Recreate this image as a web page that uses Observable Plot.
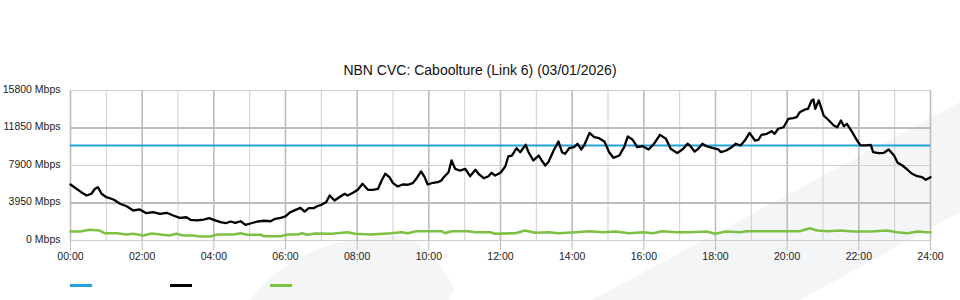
<!DOCTYPE html>
<html>
<head>
<meta charset="utf-8">
<script src="https://cdn.jsdelivr.net/npm/d3@7"></script>
<script src="https://cdn.jsdelivr.net/npm/@observablehq/plot@0.6"></script>
<style>
  html, body { margin: 0; padding: 0; background: #fff; }
  body { width: 960px; height: 300px; position: relative; overflow: hidden; font-family: "Liberation Sans", Arial, sans-serif; }
  #wm { position: absolute; left: 0; top: 0; z-index: 0; }
  #title { position: relative; z-index: 1; height: 80px; box-sizing: border-box; padding-top: 62px; text-align: center; font-size: 14px; line-height: 16px; color: #111; }
  #chart { position: relative; z-index: 1; height: 185px; }
  #legend { position: relative; z-index: 1; height: 35px; }
  .sw { position: absolute; top: 19px; width: 22px; height: 2.5px; }
</style>
</head>
<body>
<svg id="wm" width="960" height="300">
  <path d="M250,300 Q300,236 395,236 Q428,238 455,290 L448,300 Z" fill="#f4f5f7"/>
  <path d="M592,300 L960,102 L960,212 L800,300 Z" fill="#f4f5f7"/>
</svg>
<div id="title">NBN CVC: Caboolture (Link 6) (03/01/2026)</div>
<div id="chart"></div>
<div id="legend"></div>
<script>
// ---- data (minutes after midnight, Mbps) ----
const blackMin = [0,10,18,27,35,41,46,52,60,72,83,94,105,116,127,138,150,161,172,183,194,201,212,223,232,240,251,260,268,276,285,293,301,313,324,335,343,352,360,368,377,385,392,399,407,413,420,428,434,442,450,459,464,473,481,489,498,506,515,521,527,534,540,548,556,565,573,579,587,593,598,607,615,621,625,633,638,644,652,661,669,678,683,692,700,705,711,720,728,733,739,747,753,762,767,775,784,789,795,800,809,817,823,828,835,843,849,855,860,869,877,885,894,902,909,919,927,933,941,949,958,968,977,987,997,1005,1016,1026,1033,1037,1045,1051,1058,1065,1076,1085,1089,1098,1107,1114,1122,1129,1137,1146,1152,1157,1166,1174,1179,1185,1194,1202,1210,1216,1221,1230,1235,1241,1244,1247,1253,1261,1270,1278,1284,1290,1295,1300,1309,1317,1323,1331,1340,1344,1353,1362,1370,1379,1385,1393,1401,1409,1418,1426,1432,1440];
const blackVal = [5900,5450,5090,4740,4920,5450,5610,4920,4560,4320,3870,3610,3160,3270,2880,2980,2810,2920,2630,2390,2450,2180,2110,2210,2350,2180,1930,1820,2000,1860,2030,1650,1790,2000,2080,2030,2290,2390,2530,2980,3230,3440,3050,3400,3400,3610,3760,4030,4740,4210,4560,4920,4740,5020,5340,5970,5340,5340,5450,6320,7030,6670,6040,5690,5900,5870,6040,6500,7270,6670,5900,6080,6140,6320,6670,7190,8430,7550,7370,7550,6770,7450,7030,6560,6770,7130,6850,7130,7790,8850,8950,9720,9300,10080,9300,8430,8950,8430,7900,8250,9480,10430,9300,9130,9720,9830,10190,9590,10010,11340,10880,10780,10430,9300,8710,8950,9830,10950,10640,9830,9930,9590,10190,11130,10710,9660,9200,9660,10190,10010,9370,9660,10190,9930,9720,9590,9300,9480,9830,10190,10010,10530,11340,10530,10610,11130,11240,11510,11240,11770,11930,12820,12880,12990,13510,13800,13870,14750,14850,13870,14750,13170,12640,12110,11930,12640,12040,12290,11410,10530,10010,10010,10080,9300,9200,9240,9590,8950,8180,7900,7480,7030,6770,6670,6390,6670];
const greenMin = [0,16,32,49,57,77,94,105,122,136,150,166,177,189,205,218,234,246,273,285,296,318,324,352,363,380,388,396,410,437,464,476,503,537,554,565,579,604,621,627,638,666,678,703,711,745,761,778,800,817,846,869,891,913,935,958,975,991,1014,1036,1065,1079,1098,1121,1132,1171,1221,1238,1250,1267,1289,1312,1340,1367,1384,1401,1418,1432,1440];
const greenVal = [950,950,1130,1050,770,770,630,710,530,740,630,530,710,530,530,420,420,630,630,770,600,600,450,450,630,630,770,600,740,710,870,710,630,770,870,770,980,980,980,770,980,980,870,870,710,770,1050,810,870,770,870,980,870,950,770,870,770,980,870,870,950,710,950,870,980,980,980,1300,1050,980,1050,950,950,1050,870,770,950,870,870];
const capacity = 10000;
const yTicks = [0, 3950, 7900, 11850, 15800];
const xTickLabels = ["00:00","02:00","04:00","06:00","08:00","10:00","12:00","14:00","16:00","18:00","20:00","22:00","24:00"];

const BLUE = "#1ea2dc", BLACK = "#000000", GREEN = "#7cc143";

const black = blackMin.map((m, i) => ({m, v: blackVal[i]}));
const green = greenMin.map((m, i) => ({m, v: greenVal[i]}));
const hours = d3.range(0, 25);
const evenH = hours.filter(h => h % 2 === 0).map(h => h * 60);
const oddH = hours.filter(h => h % 2 === 1).map(h => h * 60);

const chart = Plot.plot({
  width: 960,
  height: 185,
  marginLeft: 70,
  marginRight: 30,
  marginTop: 10,
  marginBottom: 25,
  style: {background: "transparent", fontFamily: "'Liberation Sans', Arial, sans-serif", fontSize: "10.5px", color: "#222"},
  x: {domain: [0, 1440]},
  y: {domain: [0, 15800]},
  marks: [
    Plot.ruleX(oddH, {x: d => d, stroke: "#cfcfcf", strokeWidth: 1}),
    Plot.ruleX(evenH, {x: d => d, stroke: "#bcbcbc", strokeWidth: 1.6}),
    Plot.ruleY([0, 7900, 15800], {y: d => d, stroke: "#cfcfcf", strokeWidth: 1}),
    Plot.ruleY([3950, 11850], {y: d => d, stroke: "#bcbcbc", strokeWidth: 2}),
    Plot.ruleY([capacity], {y: d => d, stroke: BLUE, strokeWidth: 2}),
    Plot.line(green, {x: "m", y: "v", stroke: GREEN, strokeWidth: 2.6, strokeLinejoin: "round"}),
    Plot.line(black, {x: "m", y: "v", stroke: BLACK, strokeWidth: 2.3, strokeLinejoin: "round"}),
    Plot.axisX({ticks: evenH, tickFormat: (d, i) => xTickLabels[i], tickSize: 10, tickPadding: 2, stroke: "#bcbcbc", label: null, fill: "#222"}),
    Plot.axisY({ticks: yTicks, tickFormat: d => d + " Mbps", tickSize: 0, tickPadding: 10, label: null, dy: -1, fill: "#222"})
  ]
});
document.getElementById("chart").appendChild(chart);

const legend = document.getElementById("legend");
[[BLUE, 70], [BLACK, 170], [GREEN, 270]].forEach(([c, left]) => {
  const s = document.createElement("div");
  s.className = "sw";
  s.style.left = left + "px";
  s.style.background = c;
  legend.appendChild(s);
});
</script>
</body>
</html>
